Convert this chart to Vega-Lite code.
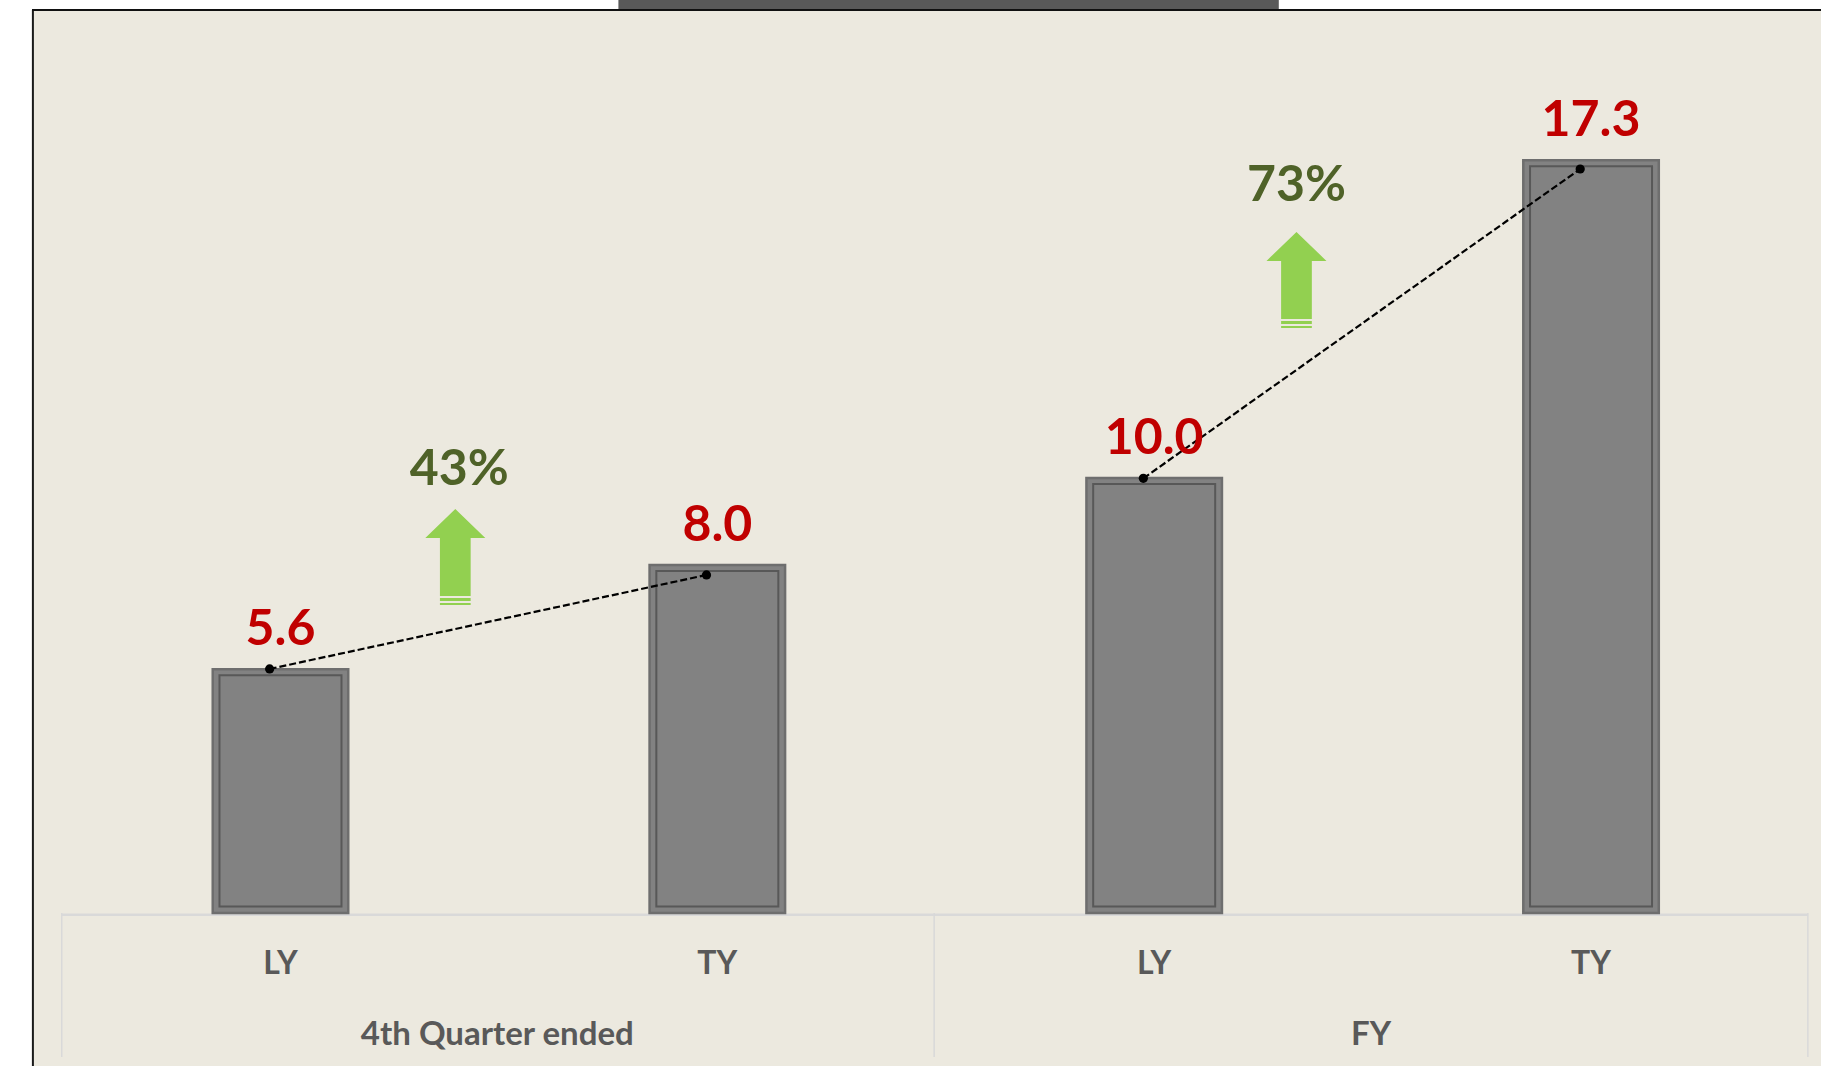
{
  "$schema": "https://vega.github.io/schema/vega-lite/v6.json",
  "width": 1789,
  "height": 1056,
  "padding": {"left": 32, "top": 10, "right": 0, "bottom": 0},
  "autosize": {"type": "none"},
  "background": "#FFFFFF",
  "view": {"fill": "#ECE9DF", "stroke": null},
  "config": {"axis": {"disable": true}},
  "datasets": {
    "bars": [
      {"key": "Q|LY", "group": "4th Quarter ended", "period": "LY", "value": 5.6},
      {"key": "Q|TY", "group": "4th Quarter ended", "period": "TY", "value": 8.0},
      {"key": "FY|LY", "group": "FY", "period": "LY", "value": 10.0},
      {"key": "FY|TY", "group": "FY", "period": "TY", "value": 17.3}
    ],
    "trend": [
      {"key": "Q|LY", "seg": "Q", "y": 5.61},
      {"key": "Q|TY", "seg": "Q", "y": 7.77},
      {"key": "FY|LY", "seg": "FY", "y": 9.99},
      {"key": "FY|TY", "seg": "FY", "y": 17.1}
    ],
    "growth": [
      {"key": "Q|LY", "seg": "Q", "pct": "43%", "arrowY": 8.18, "labelY": 9.83},
      {"key": "FY|LY", "seg": "FY", "pct": "73%", "arrowY": 14.55, "labelY": 16.37}
    ],
    "spans": [
      {"part": "titlebar", "key": "Q|TY", "key2": "FY|LY"},
      {"part": "baseline", "key": "Q|LY", "key2": "FY|TY"}
    ]
  },
  "layer": [
    {
      "data": {"name": "spans"},
      "transform": [{"filter": "datum.part == 'titlebar'"}],
      "mark": {"type": "rule", "color": "#595959", "strokeWidth": 10, "strokeCap": "butt", "x2Offset": 124.6},
      "encoding": {
        "x": {"field": "key", "type": "nominal", "bandPosition": -0.23, "axis": null},
        "x2": {"field": "key2"},
        "y": {"datum": 20.869, "type": "quantitative", "axis": null}
      }
    },
    {
      "data": {"name": "spans"},
      "transform": [{"filter": "datum.part == 'baseline'"}],
      "mark": {"type": "rule", "color": "#D9D9D9", "strokeWidth": 2.5, "strokeCap": "butt", "x2Offset": 217},
      "encoding": {
        "x": {"field": "key", "type": "nominal", "bandPosition": -1.114, "axis": null},
        "x2": {"field": "key2"},
        "y": {"datum": -0.04, "type": "quantitative", "axis": null}
      }
    },
    {
      "data": {"name": "bars"},
      "transform": [{"filter": "datum.key == 'Q|LY'"}],
      "mark": {"type": "rule", "color": "#D9D9D9", "strokeWidth": 1.5},
      "encoding": {
        "x": {"field": "key", "type": "nominal", "bandPosition": -1.114, "axis": null},
        "y": {"datum": 0, "type": "quantitative", "axis": null},
        "y2": {"datum": -3.31}
      }
    },
    {
      "data": {"name": "bars"},
      "transform": [{"filter": "datum.period == 'TY'"}],
      "mark": {"type": "rule", "color": "#D9D9D9", "strokeWidth": 1.5},
      "encoding": {
        "x": {"field": "key", "type": "nominal", "bandPosition": 2.1, "axis": null},
        "y": {"datum": 0, "type": "quantitative", "axis": null},
        "y2": {"datum": -3.31}
      }
    },
    {
      "data": {"name": "bars"},
      "mark": {"type": "bar", "fill": "#828282", "stroke": "#6E6E6E", "strokeWidth": 2.5},
      "encoding": {
        "x": {
          "field": "key",
          "type": "nominal",
          "scale": {"domain": ["Q|LY", "Q|TY", "FY|LY", "FY|TY"], "paddingInner": 0.6898, "paddingOuter": 0.3925, "align": 0.527},
          "axis": null
        },
        "y": {
          "field": "value",
          "type": "quantitative",
          "scale": {"domain": [-3.516, 20.754], "nice": false, "zero": false},
          "axis": null
        }
      }
    },
    {
      "data": {"name": "bars"},
      "mark": {"type": "bar", "fillOpacity": 0, "stroke": "#4A4A4A", "strokeWidth": 2, "strokeOpacity": 0.75, "width": 122, "yOffset": 6},
      "encoding": {
        "x": {"field": "key", "type": "nominal", "axis": null},
        "y": {"field": "value", "type": "quantitative", "axis": null},
        "y2": {"datum": 0.15}
      }
    },
    {
      "data": {"name": "trend"},
      "mark": {"type": "line", "color": "#000000", "strokeWidth": 2.2, "strokeDash": [7, 3]},
      "encoding": {
        "x": {"field": "key", "type": "nominal", "bandPosition": 0.42, "axis": null},
        "y": {"field": "y", "type": "quantitative", "axis": null},
        "detail": {"field": "seg", "type": "nominal"}
      }
    },
    {
      "data": {"name": "trend"},
      "mark": {"type": "point", "filled": true, "color": "#000000", "size": 85, "opacity": 1},
      "encoding": {
        "x": {"field": "key", "type": "nominal", "bandPosition": 0.42, "axis": null},
        "y": {"field": "y", "type": "quantitative", "axis": null}
      }
    },
    {
      "data": {"name": "bars"},
      "mark": {"type": "text", "font": "Lato", "fontWeight": "bold", "fontSize": 50, "color": "#C00000", "baseline": "alphabetic", "align": "center", "dy": -24},
      "encoding": {
        "x": {"field": "key", "type": "nominal", "axis": null},
        "y": {"field": "value", "type": "quantitative", "axis": null},
        "text": {"field": "value", "type": "quantitative", "format": ".1f"}
      }
    },
    {
      "data": {"name": "bars"},
      "mark": {"type": "text", "font": "Lato", "fontWeight": "bold", "fontSize": 32, "color": "#595959", "baseline": "alphabetic", "align": "center"},
      "encoding": {
        "x": {"field": "key", "type": "nominal", "axis": null},
        "y": {"datum": -1.402, "type": "quantitative", "axis": null},
        "text": {"field": "period", "type": "nominal"}
      }
    },
    {
      "data": {"name": "bars"},
      "transform": [{"filter": "datum.period == 'LY'"}],
      "mark": {"type": "text", "font": "Lato", "fontWeight": "bold", "fontSize": 33, "color": "#595959", "baseline": "alphabetic", "align": "center"},
      "encoding": {
        "x": {"field": "key", "type": "nominal", "bandPosition": 2.1, "axis": null},
        "y": {"datum": -3.034, "type": "quantitative", "axis": null},
        "text": {"field": "group", "type": "nominal"}
      }
    },
    {
      "data": {"name": "growth"},
      "transform": [{"filter": "datum.seg == 'Q'"}],
      "mark": {"type": "point", "filled": true, "color": "#92D050", "opacity": 1, "size": 9216,
        "shape": "M0,-1 L0.625,-0.396 L0.32,-0.396 L0.32,0.8125 L-0.32,0.8125 L-0.32,-0.396 L-0.625,-0.396 Z M-0.32,0.854 L0.32,0.854 L0.32,0.917 L-0.32,0.917 Z M-0.32,0.958 L0.32,0.958 L0.32,1 L-0.32,1 Z"},
      "encoding": {
        "x": {"field": "key", "type": "nominal", "bandPosition": 1.79, "axis": null},
        "y": {"field": "arrowY", "type": "quantitative", "axis": null}
      }
    },
    {
      "data": {"name": "growth"},
      "transform": [{"filter": "datum.seg == 'Q'"}],
      "mark": {"type": "text", "font": "Lato", "fontWeight": "bold", "fontSize": 50, "color": "#4F6228", "baseline": "alphabetic", "align": "center"},
      "encoding": {
        "x": {"field": "key", "type": "nominal", "bandPosition": 1.82, "axis": null},
        "y": {"field": "labelY", "type": "quantitative", "axis": null},
        "text": {"field": "pct", "type": "nominal"}
      }
    },
    {
      "data": {"name": "growth"},
      "transform": [{"filter": "datum.seg == 'FY'"}],
      "mark": {"type": "point", "filled": true, "color": "#92D050", "opacity": 1, "size": 9216,
        "shape": "M0,-1 L0.625,-0.396 L0.32,-0.396 L0.32,0.8125 L-0.32,0.8125 L-0.32,-0.396 L-0.625,-0.396 Z M-0.32,0.854 L0.32,0.854 L0.32,0.917 L-0.32,0.917 Z M-0.32,0.958 L0.32,0.958 L0.32,1 L-0.32,1 Z"},
      "encoding": {
        "x": {"field": "key", "type": "nominal", "bandPosition": 1.55, "axis": null},
        "y": {"field": "arrowY", "type": "quantitative", "axis": null}
      }
    },
    {
      "data": {"name": "growth"},
      "transform": [{"filter": "datum.seg == 'FY'"}],
      "mark": {"type": "text", "font": "Lato", "fontWeight": "bold", "fontSize": 50, "color": "#4F6228", "baseline": "alphabetic", "align": "center"},
      "encoding": {
        "x": {"field": "key", "type": "nominal", "bandPosition": 1.55, "axis": null},
        "y": {"field": "labelY", "type": "quantitative", "axis": null},
        "text": {"field": "pct", "type": "nominal"}
      }
    },
    {
      "data": {"name": "bars"},
      "transform": [{"filter": "datum.key == 'Q|LY'"}],
      "mark": {"type": "rule", "color": "#1A1A1A", "strokeWidth": 2},
      "encoding": {
        "x": {"field": "key", "type": "nominal", "bandPosition": -1.327, "axis": null}
      }
    },
    {
      "data": {"name": "bars"},
      "transform": [{"filter": "datum.key == 'Q|LY'"}],
      "mark": {"type": "rule", "color": "#111111", "strokeWidth": 2},
      "encoding": {
        "y": {"datum": 20.754, "type": "quantitative", "axis": null}
      }
    }
  ]
}
